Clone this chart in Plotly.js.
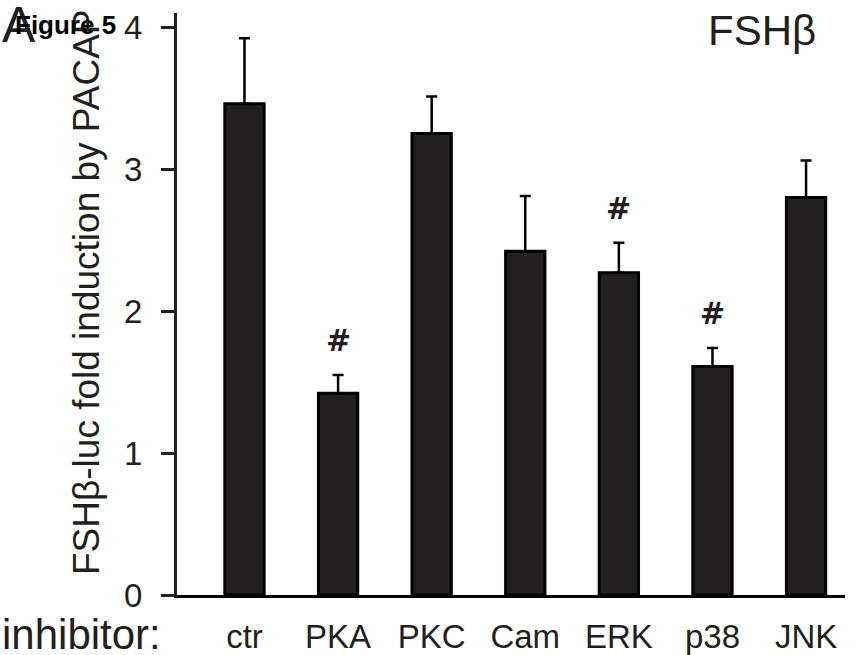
<!DOCTYPE html>
<html>
<head>
<meta charset="utf-8">
<script src="https://cdn.plot.ly/plotly-3.0.1.min.js"></script>
<style>
  html, body { margin: 0; padding: 0; background: #fff; }
  #chart { width: 857px; height: 655px; }
</style>
</head>
<body>
<div id="chart"></div>
<script>
// ---- data ----
const categories = ['ctr', 'PKA', 'PKC', 'Cam', 'ERK', 'p38', 'JNK'];
const foldInduction = [3.46, 1.42, 3.25, 2.42, 2.27, 1.61, 2.80];
const sem = [0.46, 0.13, 0.26, 0.39, 0.21, 0.13, 0.26];
const significance = ['', '#', '', '', '#', '#', ''];
const yTickValues = [0, 1, 2, 3, 4];

const FONT = 'Arial, "Liberation Sans", Helvetica, sans-serif';
const INK = '#231f20';

// plot-area pixel geometry
const W = 857, H = 655;
const M = { l: 177, r: 12, t: 13, b: 60 };
const pw = W - M.l - M.r, ph = H - M.t - M.b;
const px = x => (x - M.l) / pw;           // pixel x -> paper x
const py = y => (H - M.b - y) / ph;       // pixel y -> paper y

const trace = {
  type: 'bar',
  x: categories,
  y: foldInduction,
  width: 0.42,
  marker: { color: INK, line: { color: '#000', width: 3 } },
  error_y: { type: 'data', array: sem, visible: true, symmetric: false,
             arrayminus: sem.map(() => 0), color: '#000', thickness: 2.5, width: 5.5 },
  hoverinfo: 'skip'
};

const annotations = [];
categories.forEach((c, i) => {
  if (significance[i]) {
    annotations.push({
      x: c, y: foldInduction[i] + sem[i], xref: 'x', yref: 'y',
      text: '<b>' + significance[i] + '</b>', showarrow: false,
      xanchor: 'center', yanchor: 'bottom', yshift: 15,
      font: { family: '"DejaVu Sans", sans-serif', size: 30, color: INK, weight: 'bold' }
    });
  }
});
annotations.push(
  { text: 'FSHβ-luc fold induction by PACAP', textangle: -90, showarrow: false,
    xref: 'paper', yref: 'paper', x: px(86), y: py(292), xanchor: 'center', yanchor: 'middle',
    font: { family: FONT, size: 37, color: INK } },
  { text: 'inhibitor:', showarrow: false, xref: 'paper', yref: 'paper',
    x: px(0), y: py(634), xanchor: 'left', yanchor: 'middle',
    font: { family: FONT, size: 42, color: INK } },
  { text: 'FSHβ', showarrow: false, xref: 'paper', yref: 'paper',
    x: px(706), y: py(30), xanchor: 'left', yanchor: 'middle',
    font: { family: FONT, size: 42, color: INK } },
  { text: 'A', showarrow: false, xref: 'paper', yref: 'paper',
    x: px(0), y: py(25), xanchor: 'left', yanchor: 'middle',
    font: { family: FONT, size: 50, color: INK } },
  { text: '<b>Figure 5</b>', showarrow: false, xref: 'paper', yref: 'paper',
    x: px(13), y: py(25), xanchor: 'left', yanchor: 'middle',
    font: { family: FONT, size: 26, color: '#000' } }
);

const layout = {
  width: W, height: H,
  margin: M,
  paper_bgcolor: '#fff', plot_bgcolor: '#fff',
  showlegend: false,
  font: { family: FONT, color: INK },
  xaxis: {
    type: 'category', range: [-0.721, 6.416],
    showline: true, linecolor: '#000', linewidth: 3,
    ticks: '', showgrid: false, zeroline: false,
    tickfont: { family: FONT, size: 33, color: INK },
    ticklabelstandoff: 10, fixedrange: true
  },
  yaxis: {
    range: [0, 4.0986],
    tickvals: yTickValues, ticktext: yTickValues.map(String),
    showline: true, linecolor: INK, linewidth: 3,
    ticks: 'outside', ticklen: 13, tickwidth: 3, tickcolor: INK,
    showgrid: false, zeroline: false,
    tickfont: { family: FONT, size: 33, color: INK },
    ticklabelstandoff: 12, fixedrange: true
  },
  annotations: annotations
};

Plotly.newPlot('chart', [trace], layout, { displayModeBar: false, staticPlot: true });
</script>
</body>
</html>
